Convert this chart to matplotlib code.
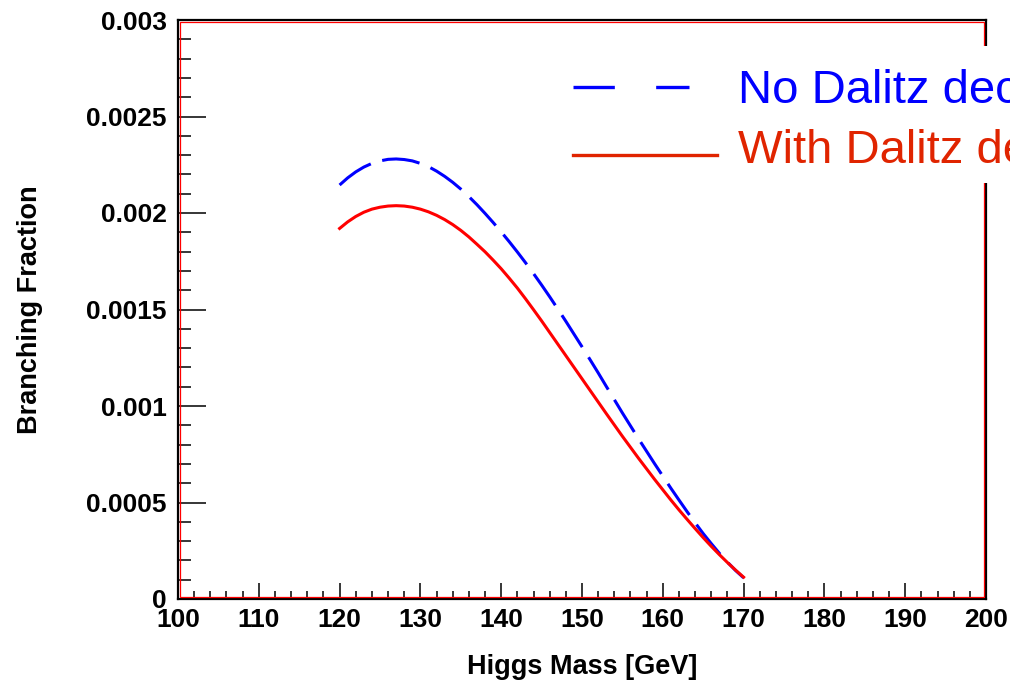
import matplotlib
matplotlib.use("Agg")
import matplotlib.pyplot as plt
from matplotlib.lines import Line2D
from matplotlib.patches import Rectangle
from matplotlib.ticker import MultipleLocator, FuncFormatter

plt.rcParams['font.family'] = ['Liberation Sans', 'DejaVu Sans']

# H -> gamma gamma branching fraction vs Higgs mass (1 GeV steps)
mass = list(range(120, 171))
br_no_dalitz = [2.145, 2.182, 2.213, 2.238, 2.257, 2.270, 2.278, 2.280, 2.277, 2.270,
                2.257, 2.240, 2.217, 2.190, 2.159, 2.124, 2.085, 2.043, 1.998, 1.951,
                1.902, 1.851, 1.798, 1.743, 1.686, 1.627, 1.566, 1.503, 1.439, 1.373,
                1.307, 1.240, 1.172, 1.102, 1.033, 0.964, 0.897, 0.830, 0.765, 0.700,
                0.637, 0.574, 0.513, 0.453, 0.395, 0.339, 0.287, 0.237, 0.191, 0.148,
                0.110]
br_dalitz = [1.920, 1.954, 1.982, 2.004, 2.020, 2.030, 2.036, 2.038, 2.036, 2.030,
             2.020, 2.006, 1.988, 1.966, 1.940, 1.910, 1.876, 1.838, 1.799, 1.756,
             1.711, 1.662, 1.611, 1.556, 1.499, 1.441, 1.381, 1.321, 1.261, 1.201,
             1.141, 1.081, 1.021, 0.961, 0.902, 0.843, 0.786, 0.729, 0.674, 0.619,
             0.566, 0.513, 0.462, 0.413, 0.365, 0.318, 0.273, 0.230, 0.189, 0.150,
             0.113]
br_no_dalitz = [v * 1e-3 for v in br_no_dalitz]
br_dalitz = [v * 1e-3 for v in br_dalitz]

labels = ['No Dalitz decay', 'With Dalitz decay']

fig = plt.figure(figsize=(10.10, 6.82), dpi=100)
ax = fig.add_axes([178 / 1010, 83 / 682, 808 / 1010, 579 / 682])

ax.plot(mass, br_no_dalitz, color='#0000ff', lw=2.2, dashes=(12.4, 3.9))
ax.plot(mass, br_dalitz, color='#ff0000', lw=2.2)

ax.set_xlim(100, 200)
ax.set_ylim(0, 0.003)

ax.xaxis.set_major_locator(MultipleLocator(10))
ax.xaxis.set_minor_locator(MultipleLocator(2))
ax.yaxis.set_major_locator(MultipleLocator(0.0005))
ax.yaxis.set_minor_locator(MultipleLocator(0.0001))
ax.yaxis.set_major_formatter(FuncFormatter(lambda v, p: '0' if v == 0 else ('%.4f' % v).rstrip('0')))

ax.tick_params(axis='x', which='major', direction='in', length=11.5, width=1.1, pad=6.5)
ax.tick_params(axis='x', which='minor', direction='in', length=5.8, width=1.1)
ax.tick_params(axis='y', which='major', direction='in', length=20, width=1.1, pad=8)
ax.tick_params(axis='y', which='minor', direction='in', length=9.4, width=1.1)
ax.tick_params(top=False, right=False, which='both')
for lab in ax.get_xticklabels() + ax.get_yticklabels():
    lab.set_fontsize(19)
    lab.set_fontweight('bold')

for sp in ax.spines.values():
    sp.set_linewidth(1.6)
    sp.set_color('black')
# thin red inner frame
ax.add_patch(Rectangle((1.9 / 808, 1.9 / 579), 1 - 3.8 / 808, 1 - 3.8 / 579,
                       transform=ax.transAxes, fill=False, ec='#ff0000', lw=0.9,
                       zorder=2.6, clip_on=False))

ax.set_xlabel('Higgs Mass [GeV]', fontsize=19.5, fontweight='bold', va='center')
ax.xaxis.set_label_coords(0.5, -0.1174)
ax.set_ylabel('Branching Fraction', fontsize=19.5, fontweight='bold', va='center')
ax.yaxis.set_label_coords(-0.183, 0.5)

# legend box
ax.add_patch(Rectangle((0.473, 0.7185), 0.6, 0.2365, transform=ax.transAxes,
                       fc='white', ec='none', zorder=5, clip_on=False))
ax.add_line(Line2D([0.489, 0.632], [0.884, 0.884], transform=ax.transAxes,
                   color='#0000ff', lw=2.4, dashes=(12.4, 12.4), zorder=6, clip_on=False))
ax.add_line(Line2D([0.489, 0.667], [0.767, 0.767], transform=ax.transAxes,
                   color='#e02400', lw=2.4, zorder=6, clip_on=False))
ax.text(0.693, 0.857, labels[0], transform=ax.transAxes, color='#0000ff',
        fontsize=34, va='baseline', ha='left', zorder=7, clip_on=False)
ax.text(0.693, 0.753, labels[1], transform=ax.transAxes, color='#e02400',
        fontsize=34, va='baseline', ha='left', zorder=7, clip_on=False)

fig.savefig('out.png', dpi=100)
